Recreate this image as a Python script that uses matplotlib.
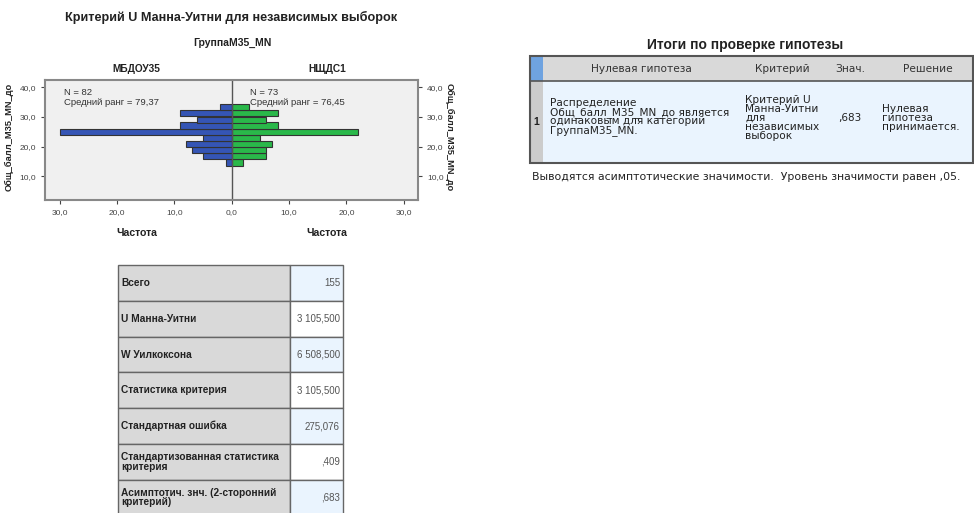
import matplotlib
matplotlib.use("Agg")
import matplotlib.pyplot as plt
from matplotlib.patches import Rectangle
import numpy as np

plt.rcParams['font.family'] = ['Liberation Sans', 'DejaVu Sans']

# ---------------- data ----------------
bin_centers = [14.6, 16.7, 18.8, 20.9, 22.9, 25.0, 27.1, 29.1, 31.2, 33.3]
bin_width = 2.07
counts_left = [1, 5, 7, 8, 5, 30, 9, 6, 9, 2]      # МБДОУ35
counts_right = [2, 6, 6, 7, 5, 22, 8, 6, 8, 3]     # НЩДС1
group_names = ["МБДОУ35", "НЩДС1"]
group_n = [82, 73]
group_rank = ["79,37", "76,45"]
x_ticks = [-30, -20, -10, 0, 10, 20, 30]
y_ticks = [10, 20, 30, 40]

stat_labels = ["Всего", "U Манна-Уитни", "W Уилкоксона", "Статистика критерия",
               "Стандартная ошибка", "Стандартизованная статистика\nкритерия",
               "Асимптотич. знч. (2-сторонний\nкритерий)"]
stat_values = ["155", "3 105,500", "6 508,500", "3 105,500", "275,076", ",409", ",683"]

hyp_headers = ["Нулевая гипотеза", "Критерий", "Знач.", "Решение"]
hyp_row = ["Распределение\nОбщ_балл_М35_MN_до является\nодинаковым для категорий\nГруппаМ35_MN.",
           "Критерий U\nМанна-Уитни\nдля\nнезависимых\nвыборок",
           ",683",
           "Нулевая\nгипотеза\nпринимается."]
footnote = "Выводятся асимптотические значимости.  Уровень значимости равен ,05."

W, H = 974, 513
fig = plt.figure(figsize=(W / 100, H / 100), dpi=100)
fig.patch.set_facecolor("white")

def fx(px):
    return px / W

def fy(py):
    return 1 - py / H

DARK = "#222222"
WIDE = ['DejaVu Sans']

# ---------------- histogram ----------------
L, R, T, B = 45, 418, 80, 200
ax = fig.add_axes([fx(L), fy(B), fx(R - L), (B - T) / H])
ax.set_facecolor("#f0f0f0")
ax.barh(bin_centers, [-c for c in counts_left], height=bin_width,
        color="#3555b5", edgecolor="#333333", linewidth=0.8)
ax.barh(bin_centers, counts_right, height=bin_width,
        color="#2ab84a", edgecolor="#333333", linewidth=0.8)
ax.axvline(0, color="#555555", linewidth=1.0)
ax.set_xlim(-32.6, 32.5)
ax.set_ylim(1.9, 42.5)
ax.set_xticks(x_ticks)
ax.set_xticklabels([f"{abs(v):.1f}".replace(".", ",") for v in x_ticks])
ax.set_yticks(y_ticks)
ax.set_yticklabels([f"{v:.1f}".replace(".", ",") for v in y_ticks])
ax.tick_params(axis="both", labelsize=6, colors="#444444", length=3, width=0.8)
ax.tick_params(axis="y", right=True, labelright=True)
for s in ax.spines.values():
    s.set_color("#888888")
    s.set_linewidth(1.5)

ax.text(0.05, 0.93, f"N = {group_n[0]}\nСредний ранг = {group_rank[0]}",
        transform=ax.transAxes, fontsize=6.8, color="#333333", va="top", linespacing=1.05)
ax.text(0.55, 0.93, f"N = {group_n[1]}\nСредний ранг = {group_rank[1]}",
        transform=ax.transAxes, fontsize=6.8, color="#333333", va="top", linespacing=1.05)

# overlay axes for layout text & tables (pixel coordinates)
ov = fig.add_axes([0, 0, 1, 1], zorder=-1)
ov.set_xlim(0, W)
ov.set_ylim(H, 0)
ov.axis("off")

ov.text(231, 17, "Критерий U Манна-Уитни для независимых выборок", fontsize=9.1,
        fontweight="bold", ha="center", va="center", color=DARK)
ov.text(232, 43, "ГруппаМ35_MN", fontsize=7.5, fontweight="bold", ha="center",
        va="center", color=DARK)
ov.text(136, 69, group_names[0], fontsize=7.3, fontweight="bold", ha="center",
        va="center", color=DARK)
ov.text(327, 69, group_names[1], fontsize=7.3, fontweight="bold", ha="center",
        va="center", color=DARK)
ov.text(137, 233, "Частота", fontsize=7.6, fontweight="bold", ha="center", va="center",
        color=DARK)
ov.text(327, 233, "Частота", fontsize=7.6, fontweight="bold", ha="center", va="center",
        color=DARK)
ov.text(9, 137, "Общ_балл_М35_MN_до", fontsize=6.7, fontweight="bold", rotation=90,
        ha="center", va="center", color=DARK)
ov.text(449, 137, "Общ_балл_М35_MN_до", fontsize=6.7, fontweight="bold", rotation=-90,
        ha="center", va="center", color=DARK)

# ---------------- statistics table ----------------
tx0, tx1, tx2 = 118, 290, 343
ty0, rh = 265, 35.8
for i, (lab, val) in enumerate(zip(stat_labels, stat_values)):
    y = ty0 + i * rh
    ov.add_patch(Rectangle((tx0, y), tx1 - tx0, rh, facecolor="#d9d9d9",
                           edgecolor="#666666", linewidth=1.0))
    ov.add_patch(Rectangle((tx1, y), tx2 - tx1, rh,
                           facecolor="#eaf4fe" if i % 2 == 0 else "white",
                           edgecolor="#666666", linewidth=1.0))
    ov.text(tx0 + 3, y + rh / 2, lab, fontsize=7.3, fontweight="bold", va="center",
            ha="left", color=DARK, linespacing=0.95)
    ov.text(tx2 - 3, y + rh / 2, val, fontsize=7, va="center", ha="right",
            color="#555555")

# ---------------- hypothesis table ----------------
ov.text(745, 45, "Итоги по проверке гипотезы", fontsize=10, fontweight="bold",
        ha="center", va="center", color=DARK)
hx0, hx1, hx2 = 530, 543, 973
hy0, hy1, hy2 = 56, 81, 163
ov.add_patch(Rectangle((hx1, hy0), hx2 - hx1, hy1 - hy0, facecolor="#d9d9d9",
                       edgecolor="none"))
ov.add_patch(Rectangle((hx0, hy0), hx1 - hx0, hy1 - hy0, facecolor="#6fa3e0",
                       edgecolor="none"))
ov.add_patch(Rectangle((hx0, hy1), hx1 - hx0, hy2 - hy1, facecolor="#cccccc",
                       edgecolor="none"))
ov.add_patch(Rectangle((hx1, hy1), hx2 - hx1, hy2 - hy1, facecolor="#eaf4fe",
                       edgecolor="none"))
ov.add_patch(Rectangle((hx0, hy0), hx2 - hx0, hy2 - hy0, facecolor="none",
                       edgecolor="#555555", linewidth=1.5))
ov.plot([hx0, hx2], [hy1, hy1], color="#555555", linewidth=1.2)

head_x = [641, 782, 850, 928]
for hx, h in zip(head_x, hyp_headers):
    ov.text(hx, (hy0 + hy1) / 2, h, fontsize=7.6, ha="center", va="center",
            color="#333333", family=WIDE)
ov.text(536, 122, "1", fontsize=7.5, fontweight="bold", ha="center", va="center",
        color=DARK)
ov.text(550, 117, hyp_row[0], fontsize=7.6, ha="left", va="center", color=DARK,
        linespacing=0.86, family=WIDE)
ov.text(745, 118, hyp_row[1], fontsize=7.6, ha="left", va="center", color=DARK,
        linespacing=0.86, family=WIDE)
ov.text(861, 118, hyp_row[2], fontsize=7.5, ha="right", va="center", color=DARK,
        family=WIDE)
ov.text(882, 118, hyp_row[3], fontsize=7.6, ha="left", va="center", color=DARK,
        linespacing=0.86, family=WIDE)
ov.text(532, 177, footnote, fontsize=7.8, ha="left", va="center", color=DARK,
        family=WIDE)

fig.savefig("out.png", dpi=100, facecolor="white")
